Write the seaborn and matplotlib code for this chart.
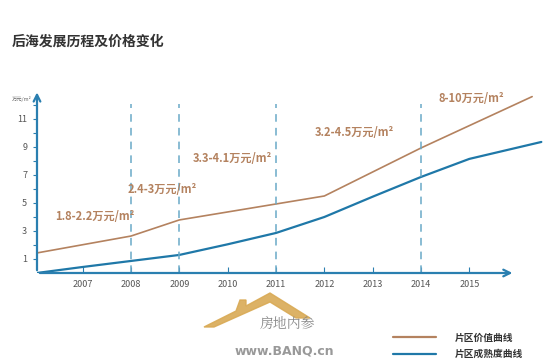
import numpy as np
import pandas as pd
import matplotlib.pyplot as plt
import seaborn as sns
from matplotlib.patches import Polygon

sns.set_style('white')
plt.rcParams['font.family'] = ['Noto Sans CJK SC', 'DejaVu Sans']

# 数据
value_years = [2006.05, 2008, 2009, 2011, 2012, 2014, 2016.3]
value_curve = [1.43, 2.64, 3.79, 4.93, 5.5, 8.93, 12.6]
mature_years = [2006.05, 2007, 2008, 2009, 2010, 2011, 2012, 2013, 2014, 2015, 2016.49]
mature_curve = [0, 0.43, 0.86, 1.29, 2.05, 2.86, 4.0, 5.45, 6.86, 8.15, 9.36]
series_names = ['片区价值曲线', '片区成熟度曲线']
x_ticks = [2007, 2008, 2009, 2010, 2011, 2012, 2013, 2014, 2015]
y_ticks = [1, 3, 5, 7, 9, 11]
milestone_years = [2008, 2009, 2011, 2014]
price_labels = ['1.8-2.2万元/m²', '2.4-3万元/m²', '3.3-4.1万元/m²', '3.2-4.5万元/m²', '8-10万元/m²']
label_pos = [(2006.43, 4.0), (2007.92, 5.93), (2009.28, 8.21), (2011.81, 10.07), (2014.37, 12.43)]

df = pd.concat([
    pd.DataFrame({'年份': value_years, '值': value_curve, '曲线': series_names[0]}),
    pd.DataFrame({'年份': mature_years, '值': mature_curve, '曲线': series_names[1]}),
])

brown = '#b4825f'
blue = '#1f78a8'
axis_blue = '#2a7fb0'
dash_blue = '#6aaac8'

fig = plt.figure(figsize=(5.53, 3.64), dpi=100)
ax = fig.add_axes([37 / 553, 1 - 273 / 364, 511 / 553, 185 / 364])

sns.lineplot(data=df, x='年份', y='值', hue='曲线', palette=[brown, blue], ax=ax)
for line, lw in zip(ax.get_lines(), [1.2, 1.6]):
    line.set_linewidth(lw)
handles, labels = ax.get_legend_handles_labels()
ax.get_legend().remove()

x0 = 2006.055
ax.set_xlim(x0, x0 + 511 / 48.33)
ax.set_ylim(0, 185 / 14)

for yr in milestone_years:
    ax.axvline(yr, ymin=0, ymax=12.1 / (185 / 14), color=dash_blue, lw=1.1, ls=(0, (5, 4)))

for txt, (tx, ty) in zip(price_labels, label_pos):
    ax.text(tx, ty, txt, color=brown, fontsize=8, fontweight='bold', va='center', ha='left')

# 坐标轴箭头
for s in ax.spines.values():
    s.set_visible(False)
ax.annotate('', xy=(2015.95, 0), xytext=(x0, 0),
            arrowprops=dict(arrowstyle='->', color=axis_blue, lw=1.6, mutation_scale=12),
            annotation_clip=False)
ax.annotate('', xy=(x0, 13.1), xytext=(x0, 0),
            arrowprops=dict(arrowstyle='->', color=axis_blue, lw=1.6, mutation_scale=12),
            annotation_clip=False)

ax.set_xticks(x_ticks)
ax.set_xticklabels([str(v) for v in x_ticks])
ax.set_yticks(y_ticks)
ax.set_yticks(list(range(2, 13, 2)), minor=True)
ax.tick_params(axis='x', direction='in', length=4, width=0.8, color=axis_blue,
               labelsize=6.5, labelcolor='#555555', pad=5, bottom=True)
ax.tick_params(axis='y', which='both', direction='out', length=3, width=0.8, color=axis_blue,
               labelsize=6.5, labelcolor='#555555', pad=4, left=True)
ax.set_xlabel('')
ax.set_ylabel('')
ax.grid(False)

fig.text(12 / 553, 1 - 99 / 364, '万元/m²', fontsize=3.8, color='#666666', va='center')
fig.text(12 / 553, 1 - 42 / 364, '后海发展历程及价格变化', fontsize=10, fontweight='bold',
         color='#333333', va='center')

leg = fig.legend(handles, labels, loc='upper left', bbox_to_anchor=(388 / 553, 1 - 328 / 364),
                 frameon=False, fontsize=7, handlelength=4.4, handletextpad=2.0,
                 labelspacing=0.65, borderpad=0)
for t in leg.get_texts():
    t.set_fontweight('bold')
    t.set_color('#333333')
for h in leg.get_lines():
    h.set_linewidth(1.6)

# 水印 logo
roof = Polygon([(204 / 553, 1 - 327 / 364), (236 / 553, 1 - 311 / 364), (240 / 553, 1 - 300 / 364),
                (246 / 553, 1 - 300 / 364), (246 / 553, 1 - 306 / 364), (270 / 553, 1 - 293 / 364),
                (310 / 553, 1 - 318 / 364), (296 / 553, 1 - 318 / 364), (270 / 553, 1 - 302 / 364),
                (214 / 553, 1 - 327 / 364)],
               closed=True, transform=fig.transFigure, color='#d9aa55', alpha=0.9)
fig.patches.append(roof)
fig.text(288 / 553, 1 - 325 / 364, '房地内参', fontsize=10, color='#888888', ha='center', va='center',
         family=['Noto Serif CJK SC', 'Noto Sans CJK SC'])
fig.text(284 / 553, 1 - 351 / 364, 'www.BANQ.cn', fontsize=9, fontweight='bold', color='#999999',
         ha='center', va='center', family=['DejaVu Sans'])

fig.savefig('out.png', dpi=100)
